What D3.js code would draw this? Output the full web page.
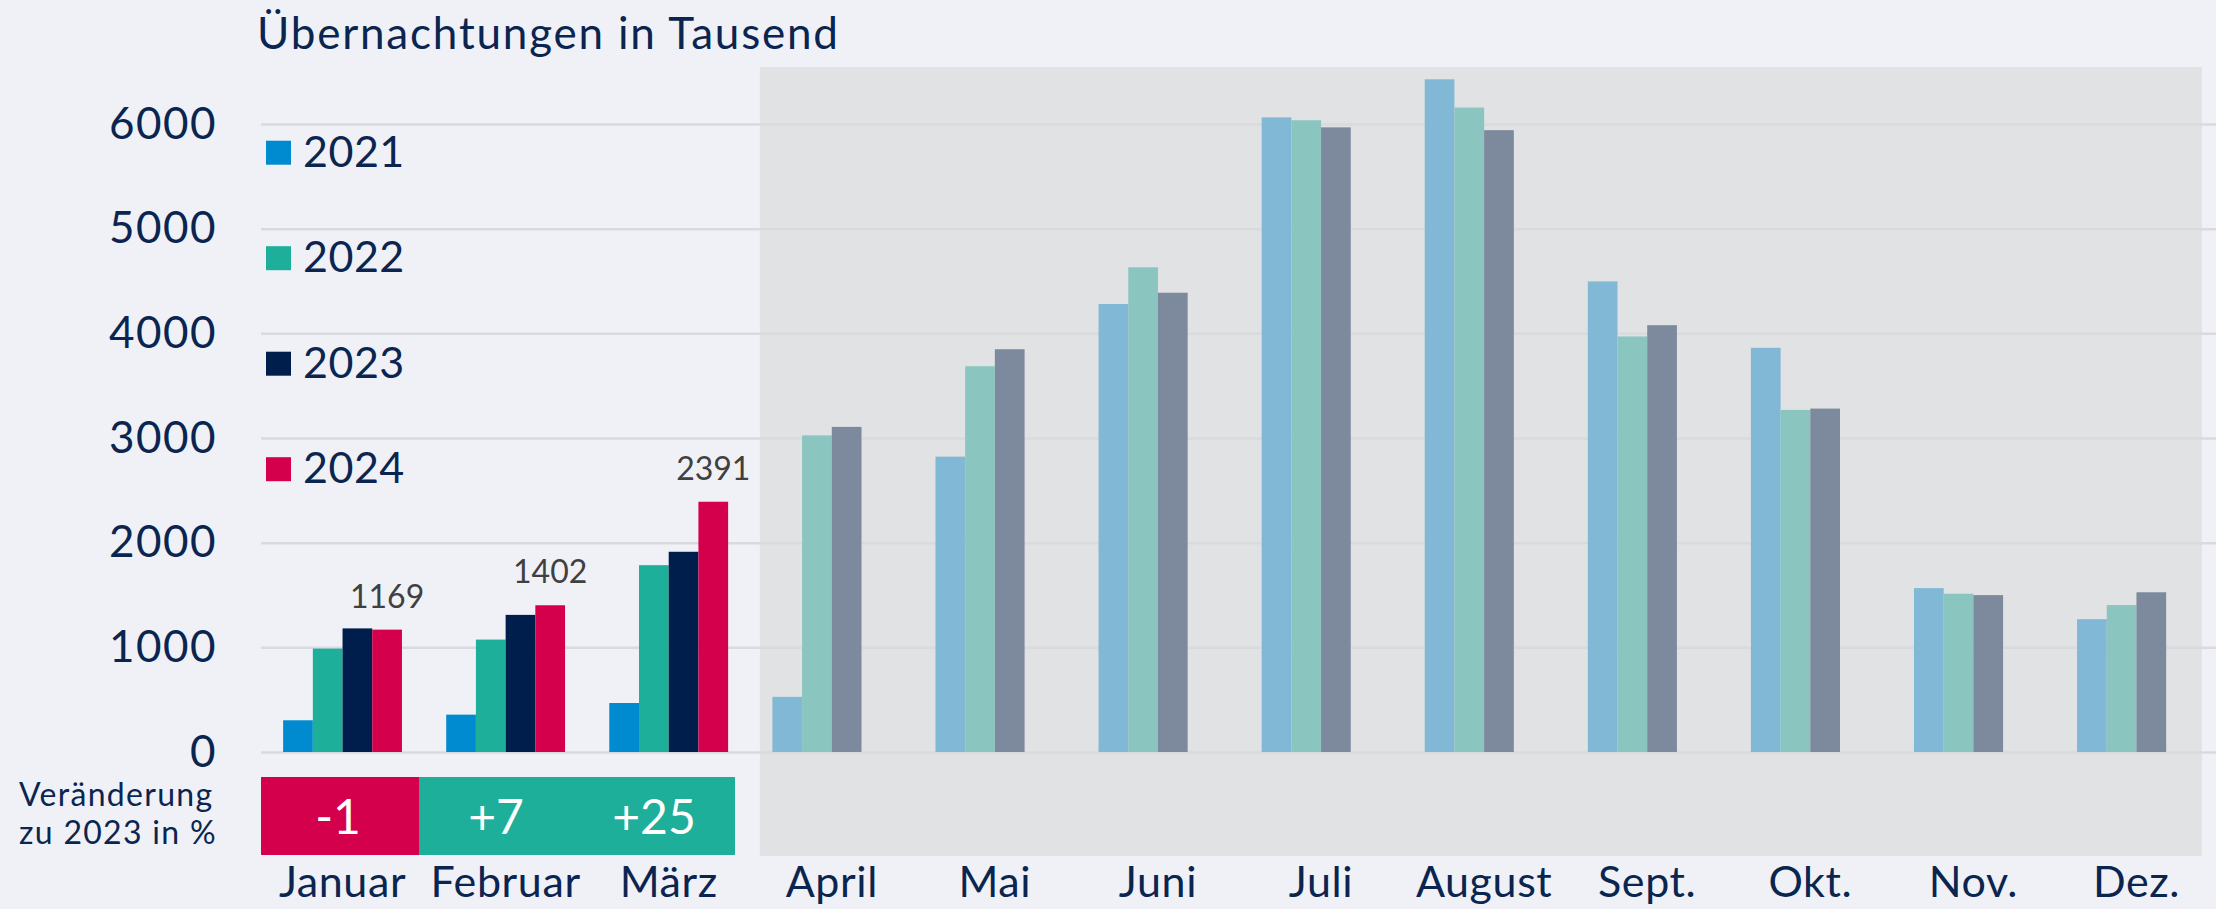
<!DOCTYPE html>
<html>
<head>
<meta charset="utf-8">
<script src="https://cdn.jsdelivr.net/npm/d3@7"></script>
<style>
  html, body { margin: 0; padding: 0; background: #f0f1f6; }
  svg { display: block; }
  text { font-family: Lato, "Open Sans", sans-serif; }
</style>
</head>
<body>
<div id="chart"></div>
<script>
// 1: DATA
const months = ["Januar", "Februar", "März", "April", "Mai", "Juni", "Juli", "August", "Sept.", "Okt.", "Nov.", "Dez."];
const years = ["2021", "2022", "2023", "2024"];
const values2021 = [303, 357, 468, 527, 2822, 4280, 6063, 6427, 4496, 3862, 1566, 1269];
const values2022 = [988, 1074, 1785, 3025, 3686, 4631, 6036, 6157, 3970, 3268, 1512, 1404];
const values2023 = [1181, 1310, 1913, 3106, 3848, 4388, 5968, 5941, 4078, 3281, 1499, 1526];
const values2024 = [1169, 1402, 2391];
const changeMonths = ["Januar", "Februar", "März"];
const changeValues = [-1, 7, 25];
const yTicks = [0, 1000, 2000, 3000, 4000, 5000, 6000];

const seriesValues = { "2021": values2021, "2022": values2022, "2023": values2023, "2024": values2024 };

// 2: GLOBAL LAYOUT
const W = 2216, H = 909;
const navy = "#0b2551";
const colors = { "2021": "#008acf", "2022": "#1daf9a", "2023": "#001e4b", "2024": "#d4004b" };
const faded = { "2021": "#80b8d6", "2022": "#8ac6bf", "2023": "#7d899c", "2024": "#e0a0b4" };

const svg = d3.select("#chart")
    .append("svg")
    .attr("width", W)
    .attr("height", H);

svg.append("rect").attr("width", W).attr("height", H).attr("fill", "#f0f1f6");

// 3: SCALES
const xScale = d3.scaleBand()
    .domain(months)
    .range([261, 2218])
    .paddingInner(0.2714)
    .paddingOuter(0.1357);

const xSub = d3.scaleBand()
    .domain(years)
    .range([0, xScale.bandwidth()]);

const yScale = d3.scaleLinear()
    .domain([0, 6000])
    .range([752, 124]);

const boxScale = d3.scaleBand()
    .domain(changeMonths)
    .range([261, 735]);

// grey panel for months without 2024 data yet
const panelLeft = xScale("April") - 12.5;
const panelRight = xScale("Dez.") + xScale.bandwidth() + 6;
svg.append("rect")
    .attr("x", panelLeft)
    .attr("y", 67)
    .attr("width", panelRight - panelLeft)
    .attr("height", 856 - 67)
    .attr("fill", "#e1e2e4");

// 4: AXES
const yAxis = svg.append("g")
    .attr("transform", "translate(261,0)")
    .call(d3.axisLeft(yScale)
        .tickValues(yTicks)
        .tickFormat(d3.format("d"))
        .tickSize(-(W - 261))
        .tickPadding(44));
yAxis.select(".domain").remove();
yAxis.selectAll(".tick line")
    .attr("stroke", "#d9dadd")
    .attr("stroke-width", 2.5);
yAxis.selectAll(".tick text")
    .attr("fill", navy)
    .attr("font-size", 44)
    .attr("letter-spacing", 1.5)
    .attr("font-family", "Lato, sans-serif");

const xAxis = svg.append("g")
    .attr("transform", "translate(0,897)")
    .call(d3.axisBottom(xScale).tickSize(0));
xAxis.select(".domain").remove();
xAxis.selectAll(".tick text")
    .attr("y", 0)
    .attr("dy", 0)
    .attr("fill", navy)
    .attr("font-size", 43)
    .attr("letter-spacing", 0.6)
    .attr("font-family", "Lato, sans-serif");

// 5: BARS
const barData = [];
months.forEach((m, i) => {
    years.forEach(y => {
        const v = seriesValues[y][i];
        if (v != null) barData.push({ month: m, idx: i, year: y, value: v });
    });
});

svg.append("g").selectAll("rect")
    .data(barData)
    .enter()
    .append("rect")
    .attr("x", d => xScale(d.month) + xSub(d.year))
    .attr("y", d => yScale(d.value))
    .attr("width", xSub.bandwidth())
    .attr("height", d => yScale(0) - yScale(d.value))
    .attr("fill", d => d.idx < 3 ? colors[d.year] : faded[d.year]);

// value labels for 2024
svg.append("g").selectAll("text")
    .data(barData.filter(d => d.year === "2024"))
    .enter()
    .append("text")
    .attr("x", d => xScale(d.month) + xSub(d.year) + xSub.bandwidth() / 2)
    .attr("y", d => yScale(d.value) - 22)
    .attr("text-anchor", "middle")
    .attr("fill", "#404040")
    .attr("font-size", 32)
    .attr("font-family", "'Open Sans', sans-serif")
    .text(d => d.value);

// 6: CHANGE BOXES
const boxes = svg.append("g").selectAll("g")
    .data(changeMonths.map((m, i) => ({ month: m, value: changeValues[i] })))
    .enter()
    .append("g");

boxes.append("rect")
    .attr("x", d => boxScale(d.month))
    .attr("y", 777)
    .attr("width", boxScale.bandwidth())
    .attr("height", 78)
    .attr("fill", d => d.value < 0 ? colors["2024"] : colors["2022"]);

boxes.append("text")
    .attr("x", d => boxScale(d.month) + boxScale.bandwidth() / 2 - 2)
    .attr("y", 834)
    .attr("text-anchor", "middle")
    .attr("fill", "#ffffff")
    .attr("font-size", 48)
    .text(d => (d.value > 0 ? "+" : "") + d.value);

svg.append("text")
    .attr("x", 19)
    .attr("y", 806)
    .attr("fill", navy)
    .attr("font-size", 32)
    .attr("letter-spacing", 1.3)
    .text("Veränderung");
svg.append("text")
    .attr("x", 19)
    .attr("y", 844)
    .attr("fill", navy)
    .attr("font-size", 32)
    .attr("letter-spacing", 1.3)
    .text("zu 2023 in %");

// 7: LEGEND
const legend = svg.append("g").selectAll("g")
    .data(years)
    .enter()
    .append("g")
    .attr("transform", (d, i) => `translate(266,${166.7 + i * 105.5})`);

legend.append("rect")
    .attr("x", 0)
    .attr("y", -26)
    .attr("width", 25)
    .attr("height", 24)
    .attr("fill", d => colors[d]);

legend.append("text")
    .attr("x", 37)
    .attr("y", 0)
    .attr("fill", navy)
    .attr("font-size", 43)
    .attr("letter-spacing", 0.5)
    .text(d => d);

// 8: TITLE
svg.append("text")
    .attr("x", 257)
    .attr("y", 49)
    .attr("fill", navy)
    .attr("font-size", 44)
    .attr("letter-spacing", 1.8)
    .text("Übernachtungen in Tausend");
</script>
</body>
</html>
